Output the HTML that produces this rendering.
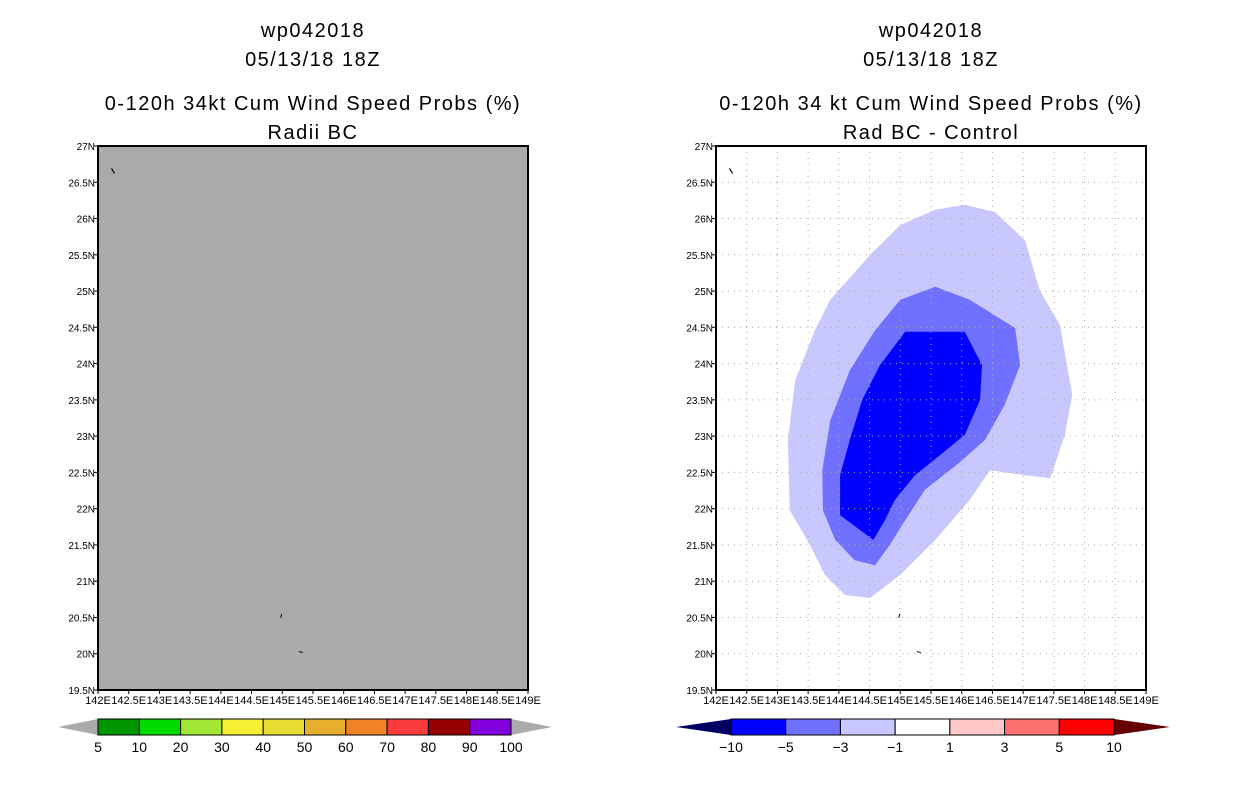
<!DOCTYPE html>
<html><head><meta charset="utf-8">
<style>
body{margin:0;background:#fff;width:1236px;height:800px;overflow:hidden}
svg text{font-family:"Liberation Sans",sans-serif;fill:#000}
</style></head>
<body>
<svg id="c" width="1236" height="800" xmlns="http://www.w3.org/2000/svg"></svg>
<script>
const lonTicks=["142E","142.5E","143E","143.5E","144E","144.5E","145E","145.5E","146E","146.5E","147E","147.5E","148E","148.5E","149E"];
const latTicks=["27N","26.5N","26N","25.5N","25N","24.5N","24N","23.5N","23N","22.5N","22N","21.5N","21N","20.5N","20N","19.5N"];
const leftLevels=["5","10","20","30","40","50","60","70","80","90","100"];
const leftColors=["#009600","#00dc00","#a0e632","#f5f032","#e6dc32","#e6af2d","#f08228","#fa3c3c","#960000","#8200dc"];
const rightLevels=["-10","-5","-3","-1","1","3","5","10"];
const rightColors=["#0000ff","#7070ff","#c8c8ff","#ffffff","#ffc8c8","#ff7070","#ff0000"];
const outerLon=[143.20,143.17,143.29,143.61,143.86,144.51,145.00,145.57,146.05,146.54,147.03,147.27,147.60,147.80,147.68,147.44,147.03,146.46,146.13,145.57,145.00,144.51,144.10,143.77,143.53];
const outerLat=[21.98,22.95,23.77,24.46,24.88,25.50,25.91,26.12,26.19,26.09,25.70,25.01,24.53,23.57,23.02,22.42,22.46,22.53,22.12,21.57,21.09,20.77,20.81,21.09,21.50];
const midLon=[143.74,143.73,143.86,144.18,144.59,145.00,145.57,146.13,146.87,146.95,146.70,146.38,145.97,145.40,145.08,144.83,144.59,144.26,143.94];
const midLat=[21.98,22.53,23.22,23.91,24.46,24.88,25.06,24.88,24.49,23.98,23.43,22.95,22.64,22.26,21.84,21.50,21.22,21.29,21.57];
const darkLon=[144.02,144.02,144.18,144.38,144.67,145.08,146.05,146.33,146.30,146.05,145.65,145.24,144.91,144.75,144.56,144.34];
const darkLat=[21.91,22.46,22.95,23.50,23.98,24.44,24.44,23.98,23.50,23.02,22.74,22.46,22.12,21.84,21.57,21.71];

const NS="http://www.w3.org/2000/svg";
const svg=document.getElementById('c');
function mk(tag,attrs,parent){const e=document.createElementNS(NS,tag);for(const k in attrs)e.setAttribute(k,attrs[k]);(parent||svg).appendChild(e);return e;}
function txt(x,y,s,size,anchor,parent){const t=mk('text',{x:x,y:y,'font-size':size,'text-anchor':anchor||'middle'},parent);t.textContent=s;return t;}

function panel(x0,title1,title2,title3,title4,isRight){
  const W=430,T=146,H=544;
  const g=mk('g',{});
  
  
  const cx=x0+W/2;
  [[title1,37],[title2,66],[title3,110],[title4,139]].forEach((p,i)=>{
    const t=txt(cx,p[1],p[0],20,'middle',g);t.setAttribute('letter-spacing','1.5');
    
    
  });
  const xs=lon=>x0+(lon-142)/7*W;
  const ys=lat=>T+(27-lat)/7.5*H;
  const bg=mk('rect',{x:x0,y:T,width:W,height:H,fill:isRight?'#fff':'#aaaaaa'},g);
  
  
  if(isRight){
    [[outerLon,outerLat,'#c8c8ff'],[midLon,midLat,'#7070ff'],[darkLon,darkLat,'#0000ff']].forEach((s,i)=>{
      const pts=s[0].map((lo,j)=>xs(lo).toFixed(1)+','+ys(s[1][j]).toFixed(1)).join(' ');
      const p=mk('polygon',{points:pts,fill:s[2]},g);
      
      
    });
    for(let i=1;i<14;i++) mk('line',{x1:xs(142+i*0.5),x2:xs(142+i*0.5),y1:T,y2:T+H,stroke:'#aaa','stroke-dasharray':'1,5','stroke-width':1},g);
    for(let i=1;i<15;i++) mk('line',{x1:x0,x2:x0+W,y1:ys(27-i*0.5),y2:ys(27-i*0.5),stroke:'#aaa','stroke-dasharray':'1,5','stroke-width':1},g);
  }
  // islands
  mk('path',{d:`M${xs(142.22)} ${ys(26.69)} l3 5`,stroke:'#000','stroke-width':1.2},g);
  mk('path',{d:`M${xs(144.99)} ${ys(20.55)} l-1 4`,stroke:'#000','stroke-width':1},g);
  mk('path',{d:`M${xs(145.27)} ${ys(20.03)} l4 1`,stroke:'#000','stroke-width':1},g);
  const fr=mk('rect',{x:x0,y:T,width:W,height:H,fill:'none',stroke:'#000','stroke-width':2},g);
  
  
  latTicks.forEach((s,i)=>{
    const y=ys(27-i*0.5);
    mk('line',{x1:x0-4,x2:x0,y1:y,y2:y,stroke:'#000'},g);
    const t=txt(x0-3,y+4,s,10,'end',g);
    
    
  });
  lonTicks.forEach((s,i)=>{
    const x=xs(142+i*0.5);
    mk('line',{x1:x,x2:x,y1:T+H,y2:T+H+4,stroke:'#000'},g);
    const t=txt(x,T+H+14,s,11,'middle',g);
    
    
  });
}
panel(98,'wp042018','05/13/18 18Z','0-120h 34kt Cum Wind Speed Probs (%)','Radii BC',false);
panel(716,'wp042018','05/13/18 18Z','0-120h 34 kt Cum Wind Speed Probs (%)','Rad BC - Control',true);

function colorbar(x0,x1,tipL,tipR,levels,colors,lc,rc,name){
  const g=mk('g',{});
  
  
  const y0=719,y1=735,n=colors.length,w=(x1-x0)/n;
  mk('polygon',{points:`${tipL},${(y0+y1)/2} ${x0},${y0} ${x0},${y1}`,fill:lc},g);
  mk('polygon',{points:`${tipR},${(y0+y1)/2} ${x1},${y0} ${x1},${y1}`,fill:rc},g);
  colors.forEach((c,i)=>{
    const r=mk('rect',{x:x0+i*w,y:y0,width:w,height:y1-y0,fill:c,stroke:'#000','stroke-width':1},g);
    
    
  });
  levels.forEach((s,i)=>{
    const t=txt(x0+i*w,752,s.replace('-','\u2212'),14,'middle',g);
    
    
  });
}
colorbar(98,511,58,552,leftLevels,leftColors,'#aaaaaa','#aaaaaa','left-colorbar');
colorbar(731,1114,676,1170,rightLevels,rightColors,'#000064','#640000','right-colorbar');
</script>
</body></html>
